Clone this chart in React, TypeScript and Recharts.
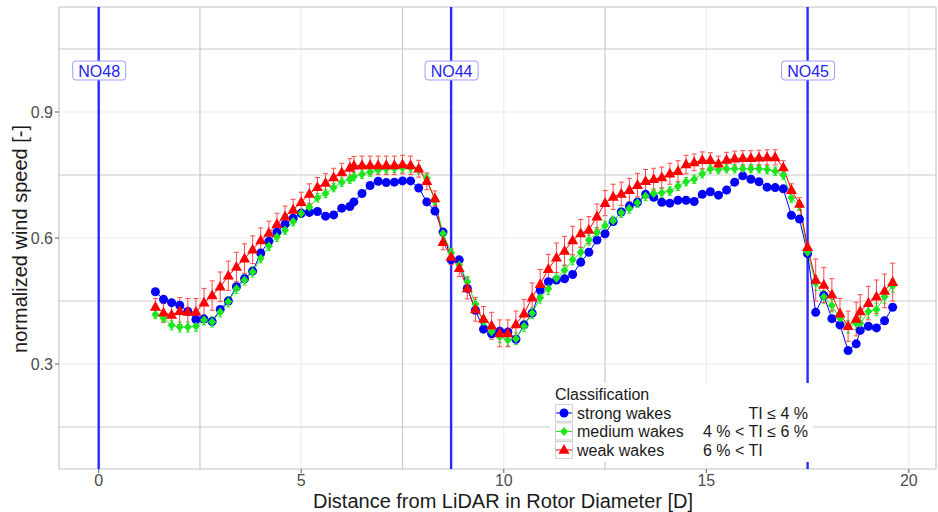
import React from 'react';
import { LineChart, Line, XAxis, YAxis, CartesianGrid, ReferenceLine, ReferenceArea, ErrorBar } from 'recharts';

// distance from LiDAR [D]
const distance = [
  1.4, 1.6, 1.8, 2.0, 2.2, 2.4, 2.6, 2.8, 3.0, 3.2,
  3.4, 3.6, 3.8, 4.0, 4.2, 4.4, 4.6, 4.8, 5.0, 5.2,
  5.4, 5.6, 5.8, 6.0, 6.2, 6.3, 6.5, 6.7, 6.9, 7.1,
  7.3, 7.5, 7.7, 7.9, 8.1, 8.3, 8.5, 8.7, 8.9, 9.1,
  9.3, 9.5, 9.7, 9.9, 10.1, 10.3, 10.5, 10.7, 10.9, 11.1,
  11.3, 11.5, 11.7, 11.9, 12.1, 12.3, 12.5, 12.7, 12.9, 13.1,
  13.3, 13.5, 13.7, 13.9, 14.1, 14.3, 14.5, 14.7, 14.9, 15.1,
  15.3, 15.5, 15.7, 15.9, 16.1, 16.3, 16.5, 16.7, 16.9, 17.1,
  17.3, 17.5, 17.7, 17.9, 18.1, 18.3, 18.5, 18.7, 18.8, 19.0,
  19.2, 19.4, 19.6,
];

// strong wakes (TI <= 4 %)
const strongWakes = [
  0.472, 0.454, 0.446, 0.440, 0.425, 0.406, 0.407, 0.401, 0.430, 0.450,
  0.484, 0.503, 0.521, 0.564, 0.592, 0.614, 0.633, 0.647, 0.659, 0.661,
  0.663, 0.652, 0.655, 0.671, 0.675, 0.686, 0.706, 0.725, 0.735, 0.732,
  0.733, 0.736, 0.736, 0.719, 0.686, 0.664, 0.614, 0.548, 0.548, 0.480,
  0.428, 0.383, 0.372, 0.378, 0.376, 0.359, 0.393, 0.421, 0.476, 0.496,
  0.500, 0.503, 0.513, 0.542, 0.566, 0.595, 0.610, 0.639, 0.662, 0.676,
  0.685, 0.704, 0.697, 0.685, 0.683, 0.690, 0.690, 0.687, 0.704, 0.710,
  0.702, 0.714, 0.733, 0.748, 0.740, 0.734, 0.721, 0.720, 0.717, 0.654,
  0.645, 0.563, 0.423, 0.463, 0.408, 0.393, 0.332, 0.348, 0.380, 0.390,
  0.386, 0.403, 0.435,
];

// medium wakes (4 % < TI <= 6 %)
const mediumWakes = [
  0.418, 0.409, 0.392, 0.388, 0.388, 0.390, 0.405, 0.400, 0.424, 0.448,
  0.480, 0.500, 0.519, 0.552, 0.581, 0.603, 0.619, 0.639, 0.659, 0.673,
  0.696, 0.706, 0.720, 0.733, 0.740, 0.746, 0.752, 0.757, 0.762, 0.765,
  0.766, 0.767, 0.767, 0.763, 0.742, 0.688, 0.611, 0.565, 0.536, 0.496,
  0.442, 0.401, 0.377, 0.365, 0.357, 0.360, 0.390, 0.421, 0.458, 0.479,
  0.504, 0.523, 0.548, 0.566, 0.595, 0.613, 0.629, 0.641, 0.660, 0.670,
  0.684, 0.700, 0.706, 0.708, 0.712, 0.723, 0.734, 0.740, 0.753, 0.764,
  0.763, 0.765, 0.765, 0.765, 0.765, 0.765, 0.763, 0.759, 0.750, 0.695,
  0.677, 0.566, 0.493, 0.460, 0.439, 0.409, 0.389, 0.397, 0.397, 0.425,
  0.430, 0.460, 0.486,
];

const mediumErr = [
  0.010, 0.010, 0.011, 0.012, 0.012, 0.012, 0.012, 0.012, 0.012, 0.012,
  0.012, 0.012, 0.012, 0.011, 0.011, 0.011, 0.010, 0.010, 0.010, 0.010,
  0.010, 0.010, 0.010, 0.010, 0.010, 0.010, 0.010, 0.010, 0.010, 0.010,
  0.010, 0.010, 0.010, 0.010, 0.010, 0.010, 0.010, 0.010, 0.010, 0.012,
  0.012, 0.012, 0.013, 0.014, 0.014, 0.014, 0.013, 0.013, 0.013, 0.013,
  0.013, 0.013, 0.012, 0.012, 0.012, 0.012, 0.011, 0.011, 0.011, 0.011,
  0.011, 0.011, 0.011, 0.011, 0.010, 0.010, 0.010, 0.010, 0.010, 0.010,
  0.010, 0.010, 0.010, 0.010, 0.010, 0.010, 0.010, 0.010, 0.010, 0.010,
  0.010, 0.008, 0.018, 0.015, 0.015, 0.015, 0.015, 0.015, 0.015, 0.015,
  0.015, 0.015, 0.015,
];

// weak wakes (6 % < TI)
const weakWakes = [
  0.436, 0.422, 0.417, 0.426, 0.424, 0.424, 0.446, 0.463, 0.484, 0.510,
  0.531, 0.551, 0.572, 0.594, 0.612, 0.633, 0.651, 0.667, 0.685, 0.705,
  0.721, 0.731, 0.744, 0.756, 0.767, 0.772, 0.773, 0.773, 0.773, 0.773,
  0.773, 0.775, 0.773, 0.765, 0.735, 0.694, 0.590, 0.555, 0.528, 0.480,
  0.430, 0.407, 0.391, 0.373, 0.373, 0.394, 0.420, 0.458, 0.490, 0.526,
  0.553, 0.569, 0.594, 0.611, 0.619, 0.651, 0.683, 0.698, 0.705, 0.714,
  0.726, 0.735, 0.740, 0.744, 0.753, 0.759, 0.775, 0.780, 0.785, 0.785,
  0.777, 0.786, 0.789, 0.790, 0.790, 0.791, 0.792, 0.792, 0.768, 0.714,
  0.681, 0.578, 0.500, 0.488, 0.465, 0.420, 0.390, 0.407, 0.425, 0.445,
  0.460, 0.474, 0.495,
];

const weakErr = [
  0.020, 0.022, 0.025, 0.032, 0.032, 0.032, 0.034, 0.035, 0.035, 0.035,
  0.035, 0.035, 0.033, 0.030, 0.028, 0.026, 0.025, 0.025, 0.024, 0.024,
  0.023, 0.022, 0.022, 0.022, 0.022, 0.022, 0.022, 0.022, 0.022, 0.022,
  0.022, 0.022, 0.022, 0.020, 0.020, 0.018, 0.018, 0.018, 0.020, 0.025,
  0.028, 0.030, 0.032, 0.032, 0.032, 0.032, 0.034, 0.035, 0.035, 0.035,
  0.035, 0.035, 0.034, 0.033, 0.032, 0.030, 0.030, 0.030, 0.028, 0.028,
  0.028, 0.028, 0.026, 0.025, 0.025, 0.025, 0.022, 0.020, 0.020, 0.018,
  0.018, 0.018, 0.018, 0.018, 0.018, 0.018, 0.018, 0.018, 0.016, 0.015,
  0.015, 0.010, 0.050, 0.042, 0.038, 0.036, 0.036, 0.040, 0.040, 0.040,
  0.040, 0.040, 0.045,
];

const turbines = [
  { name: 'NO48', x: 0 },
  { name: 'NO44', x: 8.7 },
  { name: 'NO45', x: 17.5 },
];

const xTicks = [0, 5, 10, 15, 20];
const yTicks = [0.3, 0.6, 0.9];
const xMinor = [2.5, 7.5, 12.5, 17.5];
const yMinor = [0.15, 0.45, 0.75, 1.05];

const chartData = distance.map((x, i) => ({
  x,
  strong: strongWakes[i],
  medium: mediumWakes[i],
  weak: weakWakes[i],
  mediumErr: mediumErr[i],
  weakErr: weakErr[i],
}));

const BLUE = '#0000ff';
const GREEN = '#1ee61e';
const RED = '#ff0000';
const FONT = '"Liberation Sans", Arial, sans-serif';
const X_DOMAIN: [number, number] = [-0.98, 20.67];
const Y_DOMAIN: [number, number] = [0.05, 1.15];

const circleDot = (props: any) => {
  const { cx, cy, index } = props;
  if (cx == null || cy == null) return <g key={`b${index}`} />;
  return <circle key={`b${index}`} cx={cx} cy={cy} r={4.5} fill={BLUE} />;
};

const diamondDot = (props: any) => {
  const { cx, cy, index } = props;
  if (cx == null || cy == null) return <g key={`g${index}`} />;
  return (
    <polygon
      key={`g${index}`}
      points={`${cx},${cy - 4.5} ${cx + 4},${cy} ${cx},${cy + 4.5} ${cx - 4},${cy}`}
      fill={GREEN}
    />
  );
};

const triangleDot = (props: any) => {
  const { cx, cy, index } = props;
  if (cx == null || cy == null) return <g key={`r${index}`} />;
  return (
    <polygon
      key={`r${index}`}
      points={`${cx},${cy - 6} ${cx - 5.5},${cy + 3.8} ${cx + 5.5},${cy + 3.8}`}
      fill={RED}
    />
  );
};

function TurbineTag(props: any) {
  const { viewBox, text } = props;
  const cx = viewBox ? viewBox.x : 0;
  return (
    <g>
      <rect x={cx - 26} y={61} width={53} height={19} rx={3} fill="#ffffff" stroke="#9c9cff" strokeWidth={1} />
      <text x={cx + 0.5} y={76.5} textAnchor="middle" fontSize={16} fill="#2424e8" fontFamily={FONT}>
        {text}
      </text>
    </g>
  );
}

function XTitle() {
  return (
    <text x={503} y={508} textAnchor="middle" fontSize={20} fill="#1a1a1a" fontFamily={FONT}>
      Distance from LiDAR in Rotor Diameter [D]
    </text>
  );
}

function YTitle() {
  return (
    <text x={27} y={239} transform="rotate(-90 27 239)" textAnchor="middle" fontSize={20} fill="#1a1a1a" fontFamily={FONT}>
      normalized wind speed [-]
    </text>
  );
}

const legendRows = [
  { label: 'strong wakes', range: 'TI ≤ 4 %', anchor: 'end', rangeX: 258, color: BLUE, shape: 'circle' },
  { label: 'medium wakes', range: '4 % < TI ≤ 6 %', anchor: 'end', rangeX: 258, color: GREEN, shape: 'diamond' },
  { label: 'weak wakes', range: '6 % < TI', anchor: 'start', rangeX: 153, color: RED, shape: 'triangle' },
];

function LegendBox() {
  return (
    <div style={{ position: 'absolute', left: 550, top: 383, width: 263, height: 79, background: '#ffffff' }}>
      <svg width={263} height={79} style={{ display: 'block' }}>
        <text x={5} y={17} fontSize={16} fill="#1a1a1a" fontFamily={FONT}>Classification</text>
        {legendRows.map((r, i) => {
          const top = 21 + i * 18.5;
          const cy = top + 9;
          let marker;
          if (r.shape === 'circle') marker = <circle cx={14} cy={cy} r={4.5} fill={r.color} />;
          else if (r.shape === 'diamond')
            marker = <polygon points={`14,${cy - 4.5} 18,${cy} 14,${cy + 4.5} 10,${cy}`} fill={r.color} />;
          else marker = <polygon points={`14,${cy - 6} 8.5,${cy + 3.8} 19.5,${cy + 3.8}`} fill={r.color} />;
          return (
            <g key={r.label}>
              <rect x={5.5} y={top + 0.5} width={17} height={17} fill="#ffffff" stroke="#d0d0d0" />
              <line x1={6} x2={22} y1={cy} y2={cy} stroke={r.color} strokeWidth={1} />
              {marker}
              <text x={27} y={cy + 5.5} fontSize={16} fill="#1a1a1a" fontFamily={FONT}>{r.label}</text>
              <text x={r.rangeX} y={cy + 5.5} textAnchor={r.anchor as any} fontSize={16} fill="#1a1a1a" fontFamily={FONT}>
                {r.range}
              </text>
            </g>
          );
        })}
      </svg>
    </div>
  );
}

export default function App() {
  return (
    <div style={{ position: 'absolute', left: 0, top: 0, width: 938, height: 512, background: '#ffffff', fontFamily: FONT }}>
      <LineChart width={938} height={512} data={chartData} margin={{ top: 7, right: 2, bottom: 0, left: 0 }}>
        <CartesianGrid stroke="#ebebeb" strokeWidth={1} />
        {xMinor.map((v) => (
          <ReferenceLine key={`xm${v}`} x={v} stroke="#cacaca" strokeWidth={1.2} />
        ))}
        {yMinor.map((v) => (
          <ReferenceLine key={`ym${v}`} y={v} stroke="#cacaca" strokeWidth={1.2} />
        ))}
        <ReferenceArea x1={X_DOMAIN[0]} x2={X_DOMAIN[1]} y1={Y_DOMAIN[0]} y2={Y_DOMAIN[1]} fill="none" fillOpacity={0} stroke="#cccccc" strokeWidth={1.2} />
        <XAxis
          type="number"
          dataKey="x"
          domain={X_DOMAIN}
          ticks={xTicks}
          allowDataOverflow
          height={43}
          axisLine={false}
          tickSize={4}
          tickMargin={2}
          tickLine={{ stroke: '#5a5a5a' }}
          tick={{ fontSize: 16, fill: '#4d4d4d', fontFamily: FONT }}
          label={<XTitle />}
        />
        <YAxis
          type="number"
          domain={Y_DOMAIN}
          ticks={yTicks}
          allowDataOverflow
          width={59}
          axisLine={false}
          tickSize={4}
          tickMargin={2}
          tickLine={{ stroke: '#5a5a5a' }}
          tickFormatter={(v: number) => v.toFixed(1)}
          tick={{ fontSize: 16, fill: '#4d4d4d', fontFamily: FONT }}
          label={<YTitle />}
        />
        {turbines.map((t) => (
          <ReferenceLine
            key={t.name}
            x={t.x}
            stroke="#2a2aff"
            strokeWidth={2.4}
            label={<TurbineTag text={t.name} />}
          />
        ))}
        <Line
          type="linear"
          dataKey="strong"
          stroke={BLUE}
          strokeWidth={1}
          dot={circleDot}
          activeDot={false}
          isAnimationActive={false}
        />
        <Line
          type="linear"
          dataKey="medium"
          stroke={GREEN}
          strokeWidth={1}
          dot={diamondDot}
          activeDot={false}
          isAnimationActive={false}
        >
          <ErrorBar dataKey="mediumErr" direction="y" width={2} stroke={GREEN} strokeWidth={1} isAnimationActive={false} />
        </Line>
        <Line
          type="linear"
          dataKey="weak"
          stroke={RED}
          strokeWidth={1}
          dot={triangleDot}
          activeDot={false}
          isAnimationActive={false}
        >
          <ErrorBar dataKey="weakErr" direction="y" width={2.5} stroke="#ff4848" strokeWidth={1} isAnimationActive={false} />
        </Line>
      </LineChart>
      <LegendBox />
    </div>
  );
}
